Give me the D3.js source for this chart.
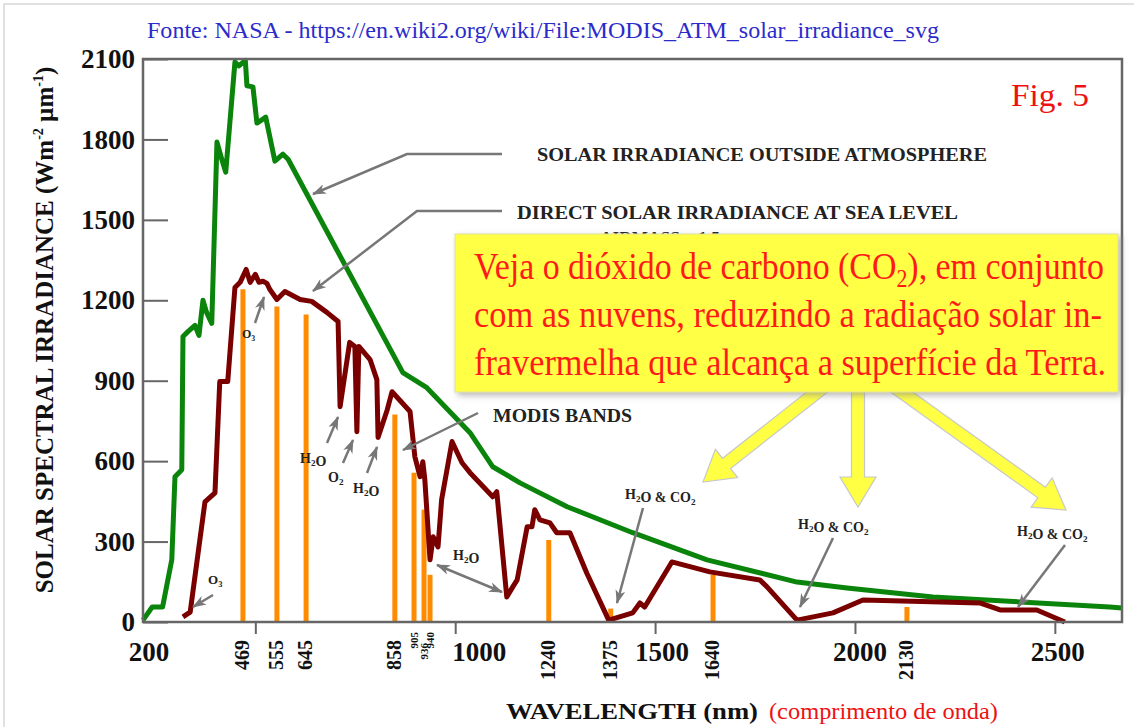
<!DOCTYPE html>
<html>
<head>
<meta charset="utf-8">
<script src="https://cdn.jsdelivr.net/npm/d3@7"></script>
<style>
body { margin: 0; background: #fff; }
text { font-family: "Liberation Serif", "Times New Roman", serif; }
</style>
</head>
<body>
<div id="chart"></div>
<script>
// solar irradiance outside atmosphere (wavelength nm, W m-2 um-1)
const outsideWl = [219,242,268,291,299,316,319,332,349,359,369,378,391,404,416,426,449,459,475,479,494,504,519,526,549,569,582,869,929,1037,1094,1162,1280,1444,1630,1855,1980,2195,2637,2668];
const outsideVal = [7,56,56,232,542,568,1065,1084,1106,1069,1200,1155,1114,1790,1726,1678,2089,2074,2095,2000,1996,1861,1876,1883,1719,1745,1726,930,874,706,579,519,430,333,232,149,127,93,56,52];

// direct solar irradiance at sea level (airmass 1.5)
const seaWl = [319,337,374,399,411,431,449,462,477,487,500,509,519,529,536,554,574,612,641,679,707,712,736,749,754,759,787,804,807,830,842,887,899,912,919,924,937,945,957,966,992,1017,1037,1094,1104,1129,1144,1155,1180,1192,1199,1212,1237,1254,1287,1329,1384,1444,1462,1474,1542,1637,1762,1780,1855,1945,2020,2312,2363,2455,2525];
const seaVal = [19,37,448,482,897,897,1248,1267,1315,1267,1297,1267,1271,1263,1241,1203,1233,1203,1196,1155,1121,803,1043,1028,710,1028,979,904,688,792,859,785,617,542,598,531,232,318,280,456,673,594,557,467,486,93,131,157,355,355,419,381,370,333,333,183,7,34,71,56,224,187,157,131,7,34,82,71,45,45,0];

// MODIS bands: label, position (nm), bar top
const bandLabels = ["469","555","645","858","905","936","940","1240","1375","1640","2130"];
const bandPos = [469,554,627,849,897,922,937,1234,1389,1645,2130];
const bandTop = [1241,1177,1147,774,557,419,176,306,50,176,56];

const yTicks = [0,300,600,900,1200,1500,1800,2100];
const xTicks = [500,1000,1500,2000,2500];
const xTickLabels = [200,1000,1500,2000,2500];

const W = 1134, H = 727;
const svg = d3.select("#chart").append("svg")
    .attr("width", W)
    .attr("height", H);

const defs = svg.append("defs");
defs.append("marker")
    .attr("id", "ah")
    .attr("viewBox", "0 0 14 10")
    .attr("refX", 13).attr("refY", 5)
    .attr("markerWidth", 14).attr("markerHeight", 10)
    .attr("markerUnits", "userSpaceOnUse")
    .attr("orient", "auto-start-reverse")
    .append("path")
    .attr("d", "M0,0 L14,5 L0,10 L4,5 Z")
    .attr("fill", "#777");
const shadow = defs.append("filter").attr("id", "shadow")
    .attr("x", "-5%").attr("y", "-10%").attr("width", "115%").attr("height", "130%");
shadow.append("feDropShadow")
    .attr("dx", 3).attr("dy", 3).attr("stdDeviation", 3)
    .attr("flood-color", "#888").attr("flood-opacity", 0.6);

// page border
svg.append("rect")
    .attr("x", 4).attr("y", 4).attr("width", W).attr("height", H)
    .attr("fill", "none").attr("stroke", "#d8d8d8").attr("stroke-width", 1.5);

const x = d3.scaleLinear().domain([219, 2668]).range([143, 1122]);
const y = d3.scaleLinear().domain([0, 2100]).range([622, 59]);

// source line
svg.append("text")
    .attr("x", 147).attr("y", 38)
    .attr("font-size", 24)
    .attr("fill", "#2b2bcc")
    .attr("textLength", 792).attr("lengthAdjust", "spacingAndGlyphs")
    .text("Fonte: NASA - https://en.wiki2.org/wiki/File:MODIS_ATM_solar_irradiance_svg");

// y axis: inward ticks, labels outside
const yAxis = svg.append("g")
    .attr("transform", `translate(${x.range()[0]},0)`)
    .call(d3.axisLeft(y).tickValues(yTicks).tickFormat(d3.format("d"))
        .tickSizeInner(-25).tickSizeOuter(0).tickPadding(8));
yAxis.select(".domain").remove();
yAxis.selectAll("line").attr("stroke", "#666").attr("stroke-width", 2);
yAxis.selectAll("text")
    .attr("font-family", "Liberation Serif")
    .attr("font-weight", "bold")
    .attr("font-size", 27)
    .attr("fill", "#111");

// x axis ticks
const xAxis = svg.append("g")
    .attr("transform", `translate(0,${y(0)})`)
    .call(d3.axisBottom(x).tickValues(xTicks).tickSize(12).tickFormat(""));
xAxis.select(".domain").remove();
xAxis.selectAll("line").attr("stroke", "#666").attr("stroke-width", 2);

const labelShift = {200: 0, 1000: 24, 1500: 7, 2000: 5, 2500: 3};
svg.append("g").selectAll("text")
    .data(xTickLabels)
    .join("text")
    .attr("x", d => (d === 200 ? x.range()[0] + 6 : x(d) + labelShift[d]))
    .attr("y", 661)
    .attr("text-anchor", "middle")
    .attr("font-weight", "bold")
    .attr("font-size", 27)
    .attr("fill", "#111")
    .text(d => d);

// band tick labels (vertical)
const smallTop = {905: 632, 936: 643, 940: 632};
svg.append("g").selectAll("text")
    .data(bandLabels)
    .join("text")
    .attr("transform", (d, i) => {
        const small = d in smallTop;
        return `translate(${x(bandPos[i]) + (small ? 4 : 6)},${small ? smallTop[d] : 640}) rotate(-90)`;
    })
    .attr("text-anchor", "end")
    .attr("font-weight", "bold")
    .attr("font-size", d => (d in smallTop ? 11 : 20))
    .attr("fill", "#111")
    .text(d => d);

// axis titles
svg.append("text")
    .attr("transform", "translate(53,330) rotate(-90)")
    .attr("text-anchor", "middle")
    .attr("font-weight", "bold")
    .attr("font-size", 25)
    .attr("fill", "#111")
    .call(t => {
        t.append("tspan").text("SOLAR SPECTRAL IRRADIANCE (Wm");
        t.append("tspan").attr("dy", -10).attr("font-size", 14).text("-2");
        t.append("tspan").attr("dy", 10).text(" \u00b5m");
        t.append("tspan").attr("dy", -10).attr("font-size", 14).text("-1");
        t.append("tspan").attr("dy", 10).text(")");
    });

svg.append("text")
    .attr("x", 506).attr("y", 719)
    .attr("font-weight", "bold")
    .attr("font-size", 24)
    .attr("textLength", 252).attr("lengthAdjust", "spacingAndGlyphs")
    .attr("fill", "#111")
    .text("WAVELENGTH (nm)");
svg.append("text")
    .attr("x", 769).attr("y", 719)
    .attr("font-size", 24)
    .attr("textLength", 229).attr("lengthAdjust", "spacingAndGlyphs")
    .attr("fill", "#ee1111")
    .text("(comprimento de onda)");

// MODIS bands
svg.append("g").selectAll("line")
    .data(bandPos)
    .join("line")
    .attr("x1", d => x(d)).attr("x2", d => x(d))
    .attr("y1", y(0))
    .attr("y2", (d, i) => y(bandTop[i]))
    .attr("stroke", "#ff8c00")
    .attr("stroke-width", 5);

const line = d3.line().x(d => x(d[0])).y(d => y(d[1]));

svg.append("path")
    .datum(d3.zip(outsideWl, outsideVal))
    .attr("d", line)
    .attr("fill", "none")
    .attr("stroke", "#0a840a")
    .attr("stroke-width", 5)
    .attr("stroke-linejoin", "round");

svg.append("path")
    .datum(d3.zip(seaWl, seaVal))
    .attr("d", line)
    .attr("fill", "none")
    .attr("stroke", "#7a0000")
    .attr("stroke-width", 5)
    .attr("stroke-linejoin", "round");

// plot frame
svg.append("rect")
    .attr("x", x.range()[0]).attr("y", y(2100))
    .attr("width", x.range()[1] - x.range()[0]).attr("height", y(0) - y(2100))
    .attr("fill", "none")
    .attr("stroke", "#666")
    .attr("stroke-width", 2.5);

// gray annotation arrows
const arrows = [
    [[213,595],[193,607]],
    [[255,323],[264,297]],
    [[327,443],[338,417]],
    [[343,463],[353,440]],
    [[367,473],[377,447]],
    [[478,413],[403,450]],
    [[643,508],[617,603]],
    [[833,538],[800,607]],
    [[1065,545],[1018,607]],
    [[502,154],[407,154],[313,194]],
    [[502,211],[417,211],[313,291]]
];
svg.append("g").selectAll("path")
    .data(arrows)
    .join("path")
    .attr("d", d3.line())
    .attr("fill", "none")
    .attr("stroke", "#777")
    .attr("stroke-width", 2.5)
    .attr("marker-end", "url(#ah)");
svg.append("path")
    .attr("d", d3.line()([[437,565],[502,592]]))
    .attr("stroke", "#777")
    .attr("stroke-width", 2.5)
    .attr("marker-start", "url(#ah)")
    .attr("marker-end", "url(#ah)");

// annotation labels
function label(px, py, txt, size, len) {
    svg.append("text")
        .attr("x", px).attr("y", py)
        .attr("font-weight", "bold")
        .attr("font-size", size)
        .attr("textLength", len).attr("lengthAdjust", "spacingAndGlyphs")
        .attr("fill", "#222")
        .text(txt);
}
label(537, 161, "SOLAR IRRADIANCE OUTSIDE ATMOSPHERE", 18, 450);
label(517, 219, "DIRECT SOLAR IRRADIANCE AT SEA LEVEL", 18, 441);
label(600, 243, "AIRMASS = 1.5", 16, 120);
label(493, 422, "MODIS BANDS", 18, 139);

function chem(px, py, parts, size) {
    const t = svg.append("text")
        .attr("x", px).attr("y", py)
        .attr("font-weight", "bold")
        .attr("font-size", size)
        .attr("fill", "#222");
    parts.forEach(p => {
        if (Array.isArray(p)) {
            t.append("tspan").attr("dy", 3).attr("font-size", size * 0.65).text(p[0]);
            t.append("tspan").attr("dy", -3).text("");
        } else {
            t.append("tspan").text(p);
        }
    });
}
chem(208, 584, ["O", ["3"]], 13);
chem(242, 338, ["O", ["3"]], 12);
chem(300, 463, ["H", ["2"], "O"], 14);
chem(328, 482, ["O", ["2"]], 14);
chem(353, 493, ["H", ["2"], "O"], 14);
chem(453, 560, ["H", ["2"], "O"], 14);
chem(625, 499, ["H", ["2"], "O & CO", ["2"]], 14);
chem(798, 529, ["H", ["2"], "O & CO", ["2"]], 14);
chem(1017, 536, ["H", ["2"], "O & CO", ["2"]], 14);

// Fig label
svg.append("text")
    .attr("x", 1011).attr("y", 106)
    .attr("font-size", 32)
    .attr("textLength", 78).attr("lengthAdjust", "spacingAndGlyphs")
    .attr("fill", "#ee1111")
    .text("Fig. 5");

// yellow arrows from the note box
function fatArrow(x1, y1, x2, y2, shaft, headW, headL) {
    const dx = x2 - x1, dy = y2 - y1, len = Math.hypot(dx, dy);
    const ux = dx / len, uy = dy / len, nx = -uy, ny = ux;
    const bx = x2 - ux * headL, by = y2 - uy * headL;
    const p = [
        [x1 + nx * shaft / 2, y1 + ny * shaft / 2],
        [bx + nx * shaft / 2, by + ny * shaft / 2],
        [bx + nx * headW / 2, by + ny * headW / 2],
        [x2, y2],
        [bx - nx * headW / 2, by - ny * headW / 2],
        [bx - nx * shaft / 2, by - ny * shaft / 2],
        [x1 - nx * shaft / 2, y1 - ny * shaft / 2]
    ];
    return "M" + p.join("L") + "Z";
}
const yellowArrows = [
    [826, 385, 703, 482],
    [858, 385, 858, 507],
    [892, 385, 1066, 510]
];
svg.append("g").selectAll("path")
    .data(yellowArrows)
    .join("path")
    .attr("d", d => fatArrow(d[0], d[1], d[2], d[3], 13, 36, 30))
    .attr("fill", "#ffff44")
    .attr("stroke", "#c8c8c8")
    .attr("stroke-width", 1.2);

// note box
svg.append("rect")
    .attr("x", 455).attr("y", 234)
    .attr("width", 663).attr("height", 158)
    .attr("fill", "#ffff44")
    .attr("stroke", "#e0e0a0")
    .attr("filter", "url(#shadow)");

const noteLines = [
    ["Veja o di\u00f3xido de carbono (CO", "2", "), em conjunto"],
    ["com as nuvens, reduzindo a radia\u00e7\u00e3o solar in-"],
    ["fravermelha que alcan\u00e7a a superf\u00edcie da Terra."]
];
const noteLen = [630, 628, 632];
const note = svg.append("g").attr("fill", "#ff1a1a").attr("font-size", 34);
noteLines.forEach((parts, i) => {
    const t = note.append("text")
        .attr("transform", `translate(474,${279 + i * 48}) scale(1,1.1)`)
        .attr("textLength", noteLen[i]).attr("lengthAdjust", "spacingAndGlyphs");
    t.append("tspan").text(parts[0]);
    if (parts.length > 1) {
        t.append("tspan").attr("dy", 7).attr("font-size", 22).text(parts[1]);
        t.append("tspan").attr("dy", -7).text(parts[2]);
    }
});
</script>
</body>
</html>
